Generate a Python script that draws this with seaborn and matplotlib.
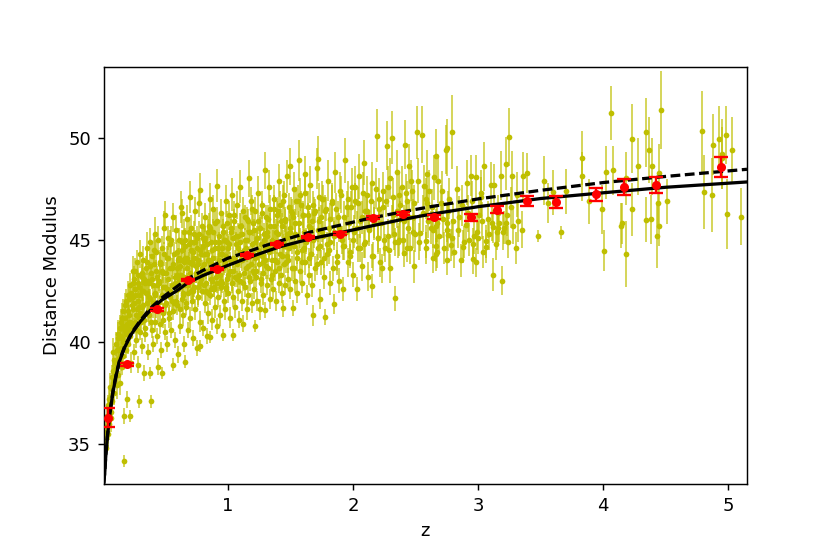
import numpy as np
import pandas as pd
import seaborn as sns
import matplotlib
matplotlib.use("Agg")
import matplotlib.pyplot as plt

# Quasars / SNe individual points (z, mu, err) read by eye, by redshift range
pts_low = [
    (0.02, 35.1, 0.5), (0.025, 34.8, 0.6), (0.03, 35.9, 0.6), (0.035, 36.4, 0.5), (0.04, 35.5, 0.7),
    (0.045, 36.9, 0.5), (0.05, 37.2, 0.6), (0.05, 36.0, 0.8), (0.06, 37.8, 0.7), (0.065, 36.6, 0.6),
    (0.07, 38.3, 0.6), (0.075, 37.1, 0.8), (0.08, 39.5, 0.7), (0.085, 38.0, 0.5), (0.09, 37.5, 0.6),
    (0.095, 38.7, 0.5), (0.105, 39.0, 0.6), (0.11, 37.9, 0.7), (0.115, 39.6, 0.6), (0.12, 38.4, 0.5),
    (0.125, 40.2, 0.8), (0.13, 39.2, 0.5), (0.135, 38.0, 0.6), (0.14, 40.7, 0.6), (0.145, 39.7, 0.5),
    (0.15, 38.8, 0.4), (0.155, 41.2, 0.7), (0.16, 40.0, 0.5), (0.165, 39.3, 0.4), (0.168, 34.2, 0.3),
    (0.17, 36.4, 0.4), (0.175, 40.6, 0.5), (0.18, 41.8, 0.6), (0.185, 39.6, 0.4), (0.19, 37.2, 0.4),
    (0.195, 40.9, 0.5), (0.2, 42.3, 0.7), (0.2, 39.9, 0.5), (0.22, 36.4, 0.3), (0.21, 41.3, 0.5),
    (0.215, 40.3, 0.4), (0.22, 42.8, 0.6), (0.225, 39.0, 0.5), (0.23, 41.8, 0.5), (0.235, 40.7, 0.4),
    (0.24, 43.5, 0.7), (0.245, 42.2, 0.5), (0.25, 43.1, 0.6), (0.25, 39.5, 0.4), (0.255, 41.0, 0.4),
    (0.26, 42.6, 0.5), (0.265, 40.1, 0.4), (0.27, 43.9, 0.6), (0.275, 41.6, 0.5), (0.28, 42.9, 0.5),
    (0.285, 38.9, 0.4), (0.29, 37.1, 0.3), (0.29, 41.2, 0.5), (0.295, 44.3, 0.7), (0.3, 42.3, 0.5),
    (0.3, 40.5, 0.4),
]

pts_low2 = [
    (0.028, 35.6, 0.5), (0.042, 36.2, 0.6), (0.055, 37.0, 0.5), (0.062, 36.3, 0.7), (0.072, 37.7, 0.6),
    (0.078, 38.6, 0.6), (0.088, 38.2, 0.5), (0.092, 39.1, 0.7), (0.102, 38.6, 0.5), (0.108, 39.9, 0.6),
    (0.118, 38.9, 0.5), (0.122, 40.4, 0.7), (0.128, 39.6, 0.5), (0.138, 40.3, 0.6), (0.142, 39.0, 0.4),
    (0.148, 41.0, 0.6), (0.152, 40.2, 0.5), (0.158, 40.8, 0.5), (0.162, 41.5, 0.6), (0.172, 40.0, 0.5),
    (0.178, 41.2, 0.5), (0.182, 40.4, 0.4), (0.188, 42.0, 0.6), (0.192, 40.8, 0.5), (0.198, 41.5, 0.5),
    (0.205, 40.6, 0.5), (0.212, 42.1, 0.6), (0.218, 41.0, 0.5), (0.228, 42.4, 0.5), (0.232, 40.9, 0.4),
    (0.238, 41.6, 0.5), (0.242, 42.9, 0.6), (0.248, 40.8, 0.4), (0.252, 41.9, 0.5), (0.258, 43.5, 0.6),
    (0.262, 41.3, 0.5), (0.268, 42.3, 0.5), (0.272, 40.6, 0.4), (0.278, 42.0, 0.5), (0.282, 43.3, 0.6),
    (0.288, 41.7, 0.5), (0.292, 42.7, 0.5), (0.298, 41.4, 0.5),
]

pts_mid1 = [
    (0.31, 41.7, 0.5), (0.31, 43.2, 0.6), (0.315, 39.8, 0.4), (0.32, 42.5, 0.5), (0.325, 44.0, 0.7),
    (0.33, 38.5, 0.4), (0.33, 41.1, 0.5), (0.335, 42.9, 0.5), (0.34, 40.4, 0.4), (0.345, 43.6, 0.6),
    (0.35, 41.9, 0.5), (0.35, 44.6, 0.8), (0.355, 42.4, 0.4), (0.36, 39.5, 0.4), (0.365, 43.0, 0.6),
    (0.37, 41.3, 0.5), (0.375, 44.9, 0.7), (0.38, 38.5, 0.3), (0.38, 42.1, 0.5), (0.385, 37.1, 0.3),
    (0.385, 43.4, 0.5), (0.39, 40.6, 0.4), (0.395, 44.2, 0.6), (0.4, 41.7, 0.5), (0.4, 42.8, 0.5),
    (0.405, 39.9, 0.4), (0.41, 43.8, 0.6), (0.415, 45.3, 0.8), (0.42, 41.0, 0.5), (0.42, 42.4, 0.4),
    (0.425, 44.4, 0.6), (0.43, 40.3, 0.4), (0.435, 43.2, 0.5), (0.44, 38.8, 0.4), (0.44, 41.9, 0.5),
    (0.445, 45.0, 0.7), (0.45, 42.9, 0.5), (0.455, 40.9, 0.5), (0.46, 43.9, 0.6), (0.465, 39.6, 0.4),
    (0.47, 42.3, 0.5), (0.47, 38.5, 0.3), (0.475, 44.6, 0.6), (0.48, 41.4, 0.5), (0.485, 43.4, 0.5),
    (0.49, 45.6, 0.8), (0.495, 40.5, 0.4), (0.5, 42.7, 0.5), (0.5, 46.2, 0.7), (0.505, 41.9, 0.5),
    (0.51, 44.1, 0.6), (0.515, 39.9, 0.4), (0.52, 43.1, 0.5), (0.525, 45.1, 0.6), (0.53, 41.2, 0.5),
    (0.535, 42.5, 0.4), (0.54, 44.8, 0.7), (0.545, 40.6, 0.4), (0.55, 43.6, 0.5), (0.555, 42.0, 0.5),
    (0.56, 38.9, 0.3), (0.56, 46.1, 0.7), (0.565, 41.5, 0.4), (0.57, 44.3, 0.6), (0.575, 42.9, 0.5),
    (0.58, 40.1, 0.4), (0.585, 45.5, 0.7), (0.59, 43.3, 0.5), (0.595, 41.8, 0.5), (0.6, 44.0, 0.6),
    (0.6, 39.4, 0.4), (0.63, 46.3, 0.7),
]

pts_mid2 = [
    (0.605, 42.6, 0.5), (0.61, 45.0, 0.6), (0.615, 40.8, 0.4), (0.62, 43.7, 0.5), (0.625, 46.6, 0.8),
    (0.63, 42.1, 0.5), (0.635, 44.5, 0.6), (0.64, 41.3, 0.5), (0.645, 43.2, 0.5), (0.65, 39.9, 0.4),
    (0.65, 45.4, 0.6), (0.655, 42.8, 0.5), (0.66, 39.05, 0.3), (0.66, 44.1, 0.6), (0.665, 41.7, 0.4),
    (0.67, 43.6, 0.5), (0.675, 46.0, 0.7), (0.68, 40.6, 0.4), (0.685, 42.4, 0.5), (0.69, 44.8, 0.6),
    (0.695, 43.0, 0.5), (0.7, 47.1, 0.8), (0.7, 41.2, 0.5), (0.705, 45.6, 0.6), (0.71, 42.0, 0.5),
    (0.715, 43.9, 0.5), (0.72, 40.2, 0.4), (0.725, 44.4, 0.6), (0.73, 42.7, 0.5), (0.735, 46.4, 0.7),
    (0.74, 41.6, 0.5), (0.745, 43.4, 0.5), (0.75, 45.1, 0.6), (0.755, 39.7, 0.4), (0.76, 42.2, 0.5),
    (0.765, 44.0, 0.5), (0.77, 46.8, 0.7), (0.775, 41.0, 0.5), (0.78, 47.45, 0.8), (0.78, 39.8, 0.3),
    (0.785, 43.1, 0.5), (0.79, 45.7, 0.6), (0.795, 42.5, 0.5), (0.8, 44.7, 0.6), (0.805, 40.7, 0.4),
    (0.81, 43.8, 0.5), (0.815, 41.9, 0.5), (0.82, 46.1, 0.7), (0.825, 42.9, 0.5), (0.83, 44.3, 0.5),
    (0.835, 40.3, 0.4), (0.84, 45.4, 0.6), (0.845, 41.4, 0.5), (0.85, 43.5, 0.5), (0.855, 47.0, 0.8),
    (0.86, 40.26, 0.3), (0.86, 42.3, 0.5), (0.865, 44.9, 0.6), (0.87, 43.0, 0.5), (0.875, 41.1, 0.5),
    (0.88, 46.5, 0.7), (0.885, 44.1, 0.5), (0.89, 42.7, 0.5), (0.895, 45.8, 0.6), (0.9, 41.7, 0.5),
    (0.905, 43.7, 0.5), (0.91, 40.8, 0.4), (0.915, 47.65, 0.8), (0.92, 44.6, 0.6), (0.925, 42.2, 0.5),
    (0.93, 45.2, 0.6), (0.935, 43.3, 0.5), (0.94, 41.3, 0.5), (0.945, 46.3, 0.7), (0.95, 42.9, 0.5),
    (0.955, 44.3, 0.6), (0.96, 40.34, 0.3), (0.965, 45.7, 0.6), (0.97, 42.0, 0.5), (0.975, 43.9, 0.5),
    (0.98, 41.6, 0.5), (0.985, 46.9, 0.8), (0.99, 44.9, 0.6), (0.995, 43.1, 0.5), (1.0, 42.4, 0.5),
    (0.612, 43.1, 0.6), (0.628, 44.0, 0.5), (0.642, 42.3, 0.5), (0.658, 45.0, 0.6), (0.672, 42.9, 0.5),
    (0.688, 43.9, 0.5), (0.702, 44.9, 0.6), (0.718, 42.5, 0.5), (0.732, 45.3, 0.6), (0.748, 43.7, 0.5),
    (0.762, 42.7, 0.5), (0.778, 44.5, 0.6), (0.792, 43.3, 0.5), (0.808, 45.0, 0.6), (0.822, 42.5, 0.5),
    (0.838, 44.0, 0.5), (0.852, 45.7, 0.6), (0.868, 42.6, 0.5), (0.882, 43.6, 0.5), (0.898, 44.6, 0.6),
    (0.912, 42.9, 0.5), (0.928, 44.0, 0.5), (0.942, 42.7, 0.5), (0.958, 43.6, 0.6), (0.972, 45.0, 0.6),
    (0.988, 42.7, 0.5),
]

pts_mid3 = [
    (1.005, 44.6, 0.6), (1.01, 46.2, 0.7), (1.015, 41.2, 0.5), (1.02, 43.5, 0.5), (1.025, 45.4, 0.6),
    (1.03, 42.9, 0.5), (1.035, 47.2, 0.8), (1.04, 40.33, 0.3), (1.04, 44.1, 0.5), (1.045, 42.2, 0.5),
    (1.05, 45.9, 0.6), (1.055, 43.2, 0.5), (1.06, 41.7, 0.5), (1.065, 44.8, 0.6), (1.07, 46.7, 0.7),
    (1.075, 43.8, 0.5), (1.08, 42.5, 0.5), (1.085, 45.2, 0.6), (1.09, 41.1, 0.4), (1.095, 44.4, 0.5),
    (1.1, 47.6, 0.8), (1.1, 43.0, 0.5), (1.105, 45.7, 0.6), (1.11, 42.0, 0.5), (1.115, 44.0, 0.5),
    (1.12, 40.9, 0.4), (1.125, 46.4, 0.7), (1.13, 43.4, 0.5), (1.135, 45.0, 0.6), (1.14, 42.7, 0.5),
    (1.145, 44.6, 0.5), (1.15, 41.6, 0.5), (1.155, 46.0, 0.6), (1.16, 43.7, 0.5), (1.165, 42.3, 0.5),
    (1.17, 48.0, 0.9), (1.17, 45.4, 0.6), (1.175, 44.2, 0.5), (1.18, 43.0, 0.5), (1.185, 46.9, 0.7),
    (1.19, 41.9, 0.5), (1.195, 44.8, 0.6), (1.2, 43.5, 0.5), (1.205, 45.8, 0.6), (1.21, 42.6, 0.5),
    (1.215, 44.1, 0.5), (1.22, 40.78, 0.3), (1.22, 46.4, 0.7), (1.225, 43.2, 0.5), (1.23, 45.1, 0.6),
    (1.235, 42.0, 0.5), (1.24, 44.5, 0.5), (1.245, 47.3, 0.8), (1.25, 43.8, 0.5), (1.255, 41.6, 0.5),
    (1.26, 45.6, 0.6), (1.265, 42.9, 0.5), (1.27, 44.2, 0.5), (1.275, 46.7, 0.7), (1.28, 43.4, 0.5),
    (1.285, 42.3, 0.5), (1.29, 45.0, 0.6), (1.3, 48.4, 0.9), (1.3, 41.57, 0.4), (1.3, 44.0, 0.5),
    (1.305, 46.1, 0.6), (1.31, 42.8, 0.5), (1.315, 45.4, 0.6), (1.32, 43.6, 0.5), (1.325, 47.6, 0.8),
    (1.33, 44.6, 0.6), (1.335, 42.1, 0.5), (1.34, 46.5, 0.7), (1.345, 43.1, 0.5), (1.35, 45.0, 0.6),
    (1.355, 44.0, 0.5), (1.36, 42.6, 0.5), (1.365, 47.0, 0.7), (1.37, 45.7, 0.6), (1.375, 43.5, 0.5),
    (1.38, 44.7, 0.6), (1.385, 42.0, 0.5), (1.39, 46.2, 0.7), (1.395, 43.9, 0.5), (1.4, 45.3, 0.6),
    (1.405, 42.9, 0.5), (1.41, 47.9, 0.8), (1.415, 44.3, 0.5), (1.42, 46.7, 0.7), (1.425, 43.3, 0.5),
    (1.43, 45.7, 0.6), (1.435, 42.4, 0.5), (1.44, 41.65, 0.4), (1.44, 44.9, 0.6), (1.445, 47.2, 0.7),
    (1.45, 43.8, 0.5), (1.455, 46.0, 0.6), (1.46, 42.8, 0.5), (1.465, 45.1, 0.6), (1.47, 44.2, 0.5),
    (1.475, 48.1, 0.8), (1.48, 43.1, 0.5), (1.485, 46.6, 0.7), (1.49, 44.6, 0.6), (1.495, 42.6, 0.5),
    (1.5, 48.6, 0.9), (1.5, 45.4, 0.6),
]

# extra points in the crowded core of the cloud
pts_core_a = [
    (0.303, 41.0, 0.5), (0.31, 42.5, 0.5), (0.317, 43.4, 0.6), (0.324, 41.8, 0.4), (0.331, 43.1, 0.5),
    (0.338, 40.7, 0.4), (0.345, 42.4, 0.5), (0.352, 43.9, 0.6), (0.359, 41.5, 0.5), (0.366, 42.9, 0.5),
    (0.373, 42.2, 0.4), (0.38, 43.7, 0.6), (0.387, 41.0, 0.4), (0.394, 43.1, 0.5), (0.401, 41.9, 0.5),
    (0.408, 44.5, 0.7), (0.415, 42.3, 0.5), (0.422, 43.5, 0.5), (0.429, 41.6, 0.4), (0.436, 42.8, 0.5),
    (0.443, 41.5, 0.5), (0.45, 43.0, 0.5), (0.457, 43.8, 0.6), (0.464, 42.2, 0.4), (0.471, 43.5, 0.5),
    (0.478, 41.1, 0.4), (0.485, 42.7, 0.5), (0.492, 44.3, 0.6), (0.499, 41.8, 0.5), (0.506, 43.4, 0.5),
    (0.513, 42.6, 0.4), (0.52, 44.1, 0.6), (0.527, 41.4, 0.4), (0.534, 43.6, 0.5), (0.541, 42.2, 0.5),
    (0.548, 45.0, 0.7), (0.555, 42.8, 0.5), (0.562, 43.8, 0.5), (0.569, 41.9, 0.4), (0.576, 43.2, 0.5),
    (0.583, 42.0, 0.5), (0.59, 43.6, 0.5), (0.597, 44.4, 0.6), (0.604, 42.8, 0.4), (0.611, 44.1, 0.5),
    (0.618, 41.6, 0.4), (0.625, 43.3, 0.5), (0.632, 44.9, 0.6), (0.639, 42.4, 0.5), (0.646, 43.9, 0.5),
    (0.653, 43.2, 0.4), (0.66, 44.7, 0.6), (0.667, 41.9, 0.4), (0.674, 44.1, 0.5), (0.681, 42.8, 0.5),
    (0.688, 45.4, 0.7), (0.695, 43.4, 0.5), (0.702, 44.5, 0.5), (0.709, 42.5, 0.4), (0.716, 43.8, 0.5),
    (0.723, 42.6, 0.5), (0.73, 44.1, 0.5), (0.737, 44.9, 0.6), (0.744, 43.3, 0.4), (0.751, 44.6, 0.5),
    (0.758, 42.2, 0.4), (0.765, 43.8, 0.5), (0.772, 45.3, 0.6), (0.779, 42.9, 0.5), (0.786, 44.3, 0.5),
    (0.793, 43.6, 0.4), (0.8, 45.1, 0.6),
]

pts_core_b = [
    (0.807, 42.8, 0.5), (0.814, 44.3, 0.5), (0.821, 45.1, 0.6), (0.828, 43.5, 0.4), (0.835, 44.8, 0.5),
    (0.842, 42.4, 0.4), (0.849, 44.0, 0.5), (0.856, 45.6, 0.6), (0.863, 43.1, 0.5), (0.87, 44.5, 0.5),
    (0.877, 43.8, 0.4), (0.884, 45.4, 0.6), (0.891, 42.6, 0.4), (0.898, 44.9, 0.5), (0.905, 43.2, 0.5),
    (0.912, 45.9, 0.7), (0.919, 43.7, 0.5), (0.926, 44.9, 0.5), (0.933, 42.9, 0.4), (0.94, 44.3, 0.5),
    (0.947, 43.0, 0.5), (0.954, 44.6, 0.5), (0.961, 45.4, 0.6), (0.968, 43.7, 0.4), (0.975, 45.0, 0.5),
    (0.982, 42.6, 0.4), (0.989, 44.2, 0.5), (0.996, 45.8, 0.6), (1.003, 43.3, 0.5), (1.01, 44.8, 0.5),
    (1.017, 44.0, 0.4), (1.024, 45.6, 0.6), (1.031, 42.9, 0.4), (1.038, 45.1, 0.5), (1.045, 43.5, 0.5),
    (1.052, 46.2, 0.7), (1.059, 44.0, 0.5), (1.066, 45.2, 0.5), (1.073, 43.1, 0.4), (1.08, 44.6, 0.5),
    (1.087, 43.3, 0.5), (1.094, 44.9, 0.5), (1.101, 45.7, 0.6), (1.108, 44.0, 0.4), (1.115, 45.3, 0.5),
    (1.122, 42.9, 0.4), (1.129, 44.5, 0.5), (1.136, 46.1, 0.6), (1.143, 43.6, 0.5), (1.15, 45.0, 0.5),
    (1.157, 44.3, 0.4), (1.164, 45.9, 0.6), (1.171, 43.2, 0.4), (1.178, 45.4, 0.5), (1.185, 43.8, 0.5),
    (1.192, 46.5, 0.7), (1.199, 44.3, 0.5), (1.206, 45.5, 0.5), (1.213, 43.4, 0.4), (1.22, 44.9, 0.5),
    (1.227, 43.5, 0.5), (1.234, 45.1, 0.5), (1.241, 45.9, 0.6), (1.248, 44.3, 0.4), (1.255, 45.6, 0.5),
    (1.262, 43.1, 0.4), (1.269, 44.8, 0.5), (1.276, 46.3, 0.6), (1.283, 43.9, 0.5), (1.29, 45.3, 0.5),
    (1.297, 44.6, 0.4),
]

pts_core_c = [
    (1.304, 43.7, 0.6), (1.313, 45.2, 0.6), (1.322, 46.0, 0.7), (1.331, 44.4, 0.5), (1.34, 45.7, 0.6),
    (1.349, 43.3, 0.5), (1.358, 44.9, 0.6), (1.367, 46.5, 0.7), (1.376, 44.0, 0.6), (1.385, 45.4, 0.6),
    (1.394, 44.8, 0.5), (1.403, 46.4, 0.7), (1.412, 43.6, 0.5), (1.421, 45.9, 0.6), (1.43, 44.2, 0.6),
    (1.439, 46.9, 0.8), (1.448, 44.7, 0.6), (1.457, 45.9, 0.6), (1.466, 43.9, 0.5), (1.475, 45.3, 0.6),
    (1.484, 44.0, 0.6), (1.493, 45.6, 0.6), (1.502, 46.4, 0.7), (1.511, 44.8, 0.5), (1.52, 46.1, 0.6),
    (1.529, 43.6, 0.5), (1.538, 45.3, 0.6), (1.547, 46.9, 0.7), (1.556, 44.4, 0.6), (1.565, 45.8, 0.6),
    (1.574, 45.1, 0.5), (1.583, 46.7, 0.7), (1.592, 43.9, 0.5), (1.601, 46.2, 0.6), (1.61, 44.6, 0.6),
    (1.619, 47.3, 0.8), (1.628, 45.0, 0.6), (1.637, 46.2, 0.6), (1.646, 44.1, 0.5), (1.655, 45.6, 0.6),
    (1.664, 44.3, 0.6), (1.673, 45.9, 0.6), (1.682, 46.7, 0.7), (1.691, 45.1, 0.5), (1.7, 46.4, 0.6),
    (1.709, 43.8, 0.5), (1.718, 45.5, 0.6), (1.727, 47.1, 0.7), (1.736, 44.7, 0.6), (1.745, 46.1, 0.6),
    (1.754, 45.4, 0.5), (1.763, 47.0, 0.7), (1.772, 44.1, 0.5), (1.781, 46.5, 0.6), (1.79, 44.8, 0.6),
]

pts_core_d = [
    (1.806, 44.5, 0.7), (1.82, 46.0, 0.8), (1.834, 46.8, 0.9), (1.848, 45.2, 0.7), (1.862, 46.5, 0.8),
    (1.876, 43.9, 0.6), (1.89, 45.6, 0.7), (1.904, 47.2, 0.9), (1.918, 44.7, 0.7), (1.932, 46.1, 0.8),
    (1.946, 45.4, 0.7), (1.96, 47.0, 0.9), (1.974, 44.2, 0.6), (1.988, 46.6, 0.8), (2.002, 45.0, 0.7),
    (2.016, 47.6, 1.0), (2.03, 45.6, 0.8), (2.044, 46.8, 0.8), (2.058, 44.6, 0.7), (2.072, 46.1, 0.8),
    (2.086, 44.8, 0.7), (2.1, 46.4, 0.8), (2.114, 47.2, 0.9), (2.128, 45.6, 0.7), (2.142, 46.9, 0.8),
    (2.156, 44.2, 0.6), (2.17, 45.8, 0.8), (2.184, 47.5, 1.0), (2.198, 45.1, 0.7), (2.212, 46.5, 0.8),
    (2.226, 45.8, 0.7), (2.24, 47.4, 0.9), (2.254, 44.6, 0.7), (2.268, 46.9, 0.8), (2.282, 45.2, 0.8),
    (2.296, 48.0, 1.0), (2.31, 45.9, 0.8), (2.324, 47.1, 0.9), (2.338, 44.9, 0.7), (2.352, 46.4, 0.8),
    (2.366, 45.0, 0.8), (2.38, 46.7, 0.9), (2.394, 47.6, 1.0), (2.408, 45.9, 0.8), (2.422, 47.3, 0.9),
    (2.436, 44.6, 0.7), (2.45, 46.1, 0.8), (2.464, 47.9, 1.0), (2.478, 45.4, 0.8), (2.492, 46.8, 0.9),
]

pts_high1 = [
    (1.51, 43.6, 0.6), (1.515, 46.3, 0.7), (1.52, 41.68, 0.4), (1.525, 44.7, 0.6), (1.53, 47.5, 0.8),
    (1.535, 43.0, 0.6), (1.54, 45.8, 0.7), (1.55, 44.1, 0.6), (1.555, 42.4, 0.5), (1.56, 46.9, 0.8),
    (1.57, 48.9, 1.0), (1.57, 45.1, 0.6), (1.575, 43.5, 0.6), (1.58, 47.2, 0.8), (1.59, 44.5, 0.6),
    (1.595, 42.9, 0.5), (1.6, 46.2, 0.7), (1.61, 45.4, 0.7), (1.615, 43.9, 0.6), (1.62, 48.2, 0.9),
    (1.625, 44.9, 0.6), (1.63, 42.3, 0.5), (1.64, 46.6, 0.8), (1.645, 43.3, 0.5), (1.65, 45.7, 0.7),
    (1.66, 47.7, 0.9), (1.665, 44.3, 0.6), (1.67, 42.8, 0.6), (1.68, 41.3, 0.5), (1.68, 45.0, 0.7),
    (1.69, 46.3, 0.8), (1.7, 43.6, 0.6), (1.71, 48.5, 1.0), (1.72, 48.97, 1.1), (1.72, 44.6, 0.6),
    (1.73, 45.9, 0.7), (1.74, 42.1, 0.5), (1.745, 43.9, 0.6), (1.75, 47.0, 0.9), (1.76, 45.2, 0.7),
    (1.77, 43.2, 0.6), (1.78, 41.24, 0.4), (1.78, 46.4, 0.8), (1.79, 44.3, 0.6), (1.8, 47.9, 1.0),
    (1.81, 45.6, 0.7), (1.815, 42.9, 0.6), (1.82, 44.9, 0.7), (1.83, 46.9, 0.9), (1.84, 43.6, 0.6),
    (1.85, 41.85, 0.5), (1.85, 45.4, 0.7), (1.86, 48.3, 1.0), (1.87, 44.2, 0.7), (1.88, 46.1, 0.8),
    (1.89, 43.0, 0.6), (1.9, 47.4, 0.9), (1.91, 45.0, 0.7), (1.92, 42.6, 0.6), (1.93, 44.7, 0.7),
    (1.94, 48.9, 1.1), (1.95, 46.6, 0.8), (1.96, 43.9, 0.7), (1.97, 45.8, 0.8), (1.98, 44.4, 0.7),
    (1.99, 47.6, 0.9), (2.0, 43.3, 0.6),
]

pts_high2 = [
    (2.01, 45.4, 0.8), (2.02, 46.9, 0.9), (2.03, 42.6, 0.6), (2.04, 44.6, 0.7), (2.05, 48.1, 1.1),
    (2.06, 45.9, 0.8), (2.07, 43.7, 0.7), (2.08, 47.3, 1.0), (2.09, 48.76, 1.1), (2.1, 44.9, 0.8),
    (2.11, 46.4, 0.9), (2.12, 43.2, 0.7), (2.13, 45.5, 0.8), (2.15, 42.75, 0.6), (2.15, 47.8, 1.0),
    (2.16, 44.2, 0.7), (2.17, 46.0, 0.9), (2.19, 50.1, 1.3), (2.2, 45.1, 0.8), (2.21, 47.0, 1.0),
    (2.22, 43.9, 0.7), (2.23, 43.6, 0.7), (2.24, 46.6, 0.9), (2.25, 45.0, 0.8), (2.27, 49.6, 1.2),
    (2.28, 47.6, 1.0), (2.29, 44.5, 0.8), (2.3, 43.6, 0.7), (2.31, 50.0, 1.3), (2.32, 46.2, 0.9),
    (2.33, 45.3, 0.8), (2.34, 42.14, 0.6), (2.35, 48.3, 1.1), (2.36, 44.9, 0.8), (2.37, 47.2, 1.0),
    (2.38, 46.0, 0.9), (2.4, 45.0, 0.8), (2.41, 44.38, 0.7), (2.42, 49.66, 1.2), (2.43, 46.9, 1.0),
    (2.44, 45.6, 0.9), (2.45, 48.6, 1.1), (2.46, 44.6, 0.8), (2.47, 47.4, 1.0), (2.48, 46.1, 0.9),
    (2.49, 43.7, 0.8), (2.5, 45.3, 0.9), (2.51, 50.26, 1.3), (2.52, 47.9, 1.1), (2.53, 44.9, 0.9),
]

pts_tail = [
    (2.55, 50.15, 1.4), (2.59, 48.2, 1.2), (2.57, 47.65, 1.0), (2.66, 49.1, 1.3), (2.65, 48.05, 1.1),
    (2.79, 50.26, 1.8), (2.74, 49.4, 1.2), (2.75, 49.5, 1.4), (2.71, 47.37, 1.0), (2.7, 46.8, 0.9),
    (2.58, 47.0, 1.0), (2.59, 46.8, 0.9), (2.54, 45.34, 0.9), (2.58, 44.92, 0.8), (2.58, 44.6, 0.8),
    (2.62, 45.6, 0.8), (2.64, 45.5, 0.9), (2.66, 45.7, 0.8), (2.67, 45.8, 0.9), (2.64, 44.1, 0.7),
    (2.66, 44.3, 0.8), (2.67, 44.4, 0.8), (2.66, 44.7, 0.8), (2.75, 45.8, 0.9), (2.75, 45.5, 0.8),
    (2.76, 45.25, 0.8), (2.75, 44.0, 0.7), (2.79, 45.1, 0.9), (2.78, 44.75, 0.8), (2.76, 46.4, 1.0),
    (2.86, 44.0, 0.8), (2.85, 46.14, 1.0), (2.88, 44.67, 0.8), (2.9, 45.73, 0.9), (2.94, 48.14, 1.0),
    (2.98, 48.07, 1.1), (2.96, 44.05, 0.7), (2.98, 43.9, 0.7), (2.96, 44.8, 0.8), (2.97, 45.2, 0.9),
    (2.99, 45.4, 0.9), (3.0, 45.1, 0.8), (3.02, 47.3, 1.1), (3.02, 47.07, 1.0), (3.03, 45.93, 0.9),
    (3.06, 44.67, 0.8), (3.06, 44.92, 0.8), (3.1, 47.7, 1.1), (3.13, 47.7, 1.0), (3.11, 45.82, 0.9),
    (3.12, 45.65, 0.8), (3.12, 43.3, 0.8), (3.19, 43.0, 0.7), (3.15, 45.4, 0.9), (3.16, 45.6, 0.8),
    (3.17, 45.8, 0.9), (3.16, 46.3, 0.9), (3.18, 48.14, 1.2), (3.22, 48.73, 1.3), (3.25, 50.03, 1.4),
    (3.2, 45.4, 0.9), (3.21, 45.6, 0.8), (3.22, 45.8, 1.0), (3.23, 46.2, 1.0), (3.27, 48.14, 1.2),
    (3.28, 45.7, 0.9), (3.32, 45.9, 1.0), (3.36, 48.1, 1.2), (3.39, 48.27, 1.0), (3.48, 45.2, 0.3),
    (3.53, 47.9, 1.2), (3.56, 46.8, 1.0), (3.6, 47.32, 1.1), (3.66, 45.36, 0.3), (3.7, 47.37, 1.1),
    (3.83, 49.0, 1.3), (3.83, 48.1, 1.2), (3.89, 46.88, 1.1), (3.99, 46.5, 1.2), (4.01, 44.46, 1.0),
    (4.02, 48.3, 1.3), (4.06, 51.2, 1.3), (4.08, 48.4, 1.2), (4.14, 45.7, 1.1), (4.15, 45.8, 1.0),
    (4.18, 44.3, 1.6), (4.18, 48.0, 1.3), (4.23, 49.95, 1.7), (4.23, 46.5, 1.3), (4.28, 48.6, 1.4),
    (4.34, 50.26, 1.7), (4.34, 45.98, 1.1), (4.37, 49.4, 1.6), (4.38, 46.0, 1.2), (4.39, 48.6, 1.4),
    (4.43, 45.2, 1.6), (4.44, 46.8, 1.1), (4.45, 48.27, 1.4), (4.45, 45.7, 1.0), (4.46, 51.34, 1.9),
    (4.51, 46.88, 1.1), (4.79, 50.3, 2.0), (4.81, 47.34, 1.8), (4.87, 47.2, 1.8), (4.88, 49.66, 1.5),
    (4.93, 49.95, 1.6), (4.95, 49.2, 1.7), (4.95, 49.0, 1.5), (4.98, 50.13, 1.4), (4.99, 46.26, 1.7),
    (5.03, 49.4, 1.6), (5.1, 46.14, 1.4),
]

pts_tail2 = [
    (2.56, 46.3, 0.9), (2.6, 45.9, 0.8), (2.61, 47.4, 1.0), (2.63, 46.6, 0.9), (2.68, 47.9, 1.1),
    (2.69, 45.2, 0.8), (2.72, 46.0, 0.9), (2.73, 44.6, 0.8), (2.77, 47.0, 1.0), (2.8, 45.9, 0.9),
    (2.81, 44.4, 0.8), (2.83, 47.5, 1.1), (2.84, 45.5, 0.9), (2.87, 46.7, 1.0), (2.89, 44.9, 0.8),
    (2.91, 47.8, 1.1), (2.92, 46.3, 0.9), (2.93, 45.0, 0.8), (2.95, 46.9, 1.0), (3.01, 46.2, 0.9),
    (3.04, 44.4, 0.8), (3.05, 48.6, 1.2), (3.08, 46.0, 0.9), (3.09, 45.3, 0.8), (3.14, 44.8, 0.8),
    (3.24, 44.9, 0.8), (3.26, 46.6, 1.0), (3.3, 44.6, 0.8), (3.31, 47.2, 1.1), (3.35, 45.5, 0.9),
]

# binned averages (red)
bin_z = [0.04, 0.19, 0.43, 0.68, 0.91, 1.15, 1.39, 1.64, 1.9, 2.16,
         2.4, 2.65, 2.94, 3.15, 3.39, 3.62, 3.94, 4.17, 4.42, 4.94]
bin_mu = [36.3, 38.92, 41.6, 43.04, 43.56, 44.26, 44.78, 45.15, 45.3, 46.08,
          46.28, 46.13, 46.1, 46.47, 46.9, 46.85, 47.22, 47.6, 47.68, 48.55]
bin_err = [0.47, 0.08, 0.07, 0.05, 0.05, 0.05, 0.05, 0.06, 0.06, 0.07,
           0.08, 0.1, 0.18, 0.16, 0.25, 0.3, 0.31, 0.39, 0.37, 0.49]

# model curves
z_model = [0.008, 0.016, 0.024, 0.035, 0.048, 0.064, 0.083, 0.11, 0.136, 0.176,
           0.23, 0.3, 0.38, 0.47, 0.59, 0.68, 0.8, 0.9, 1.0, 1.15,
           1.3, 1.42, 1.66, 1.9, 2.11, 2.38, 2.62, 3.0, 3.5, 4.0,
           4.5, 5.0, 5.15]
mu_solid = [33.1, 33.6, 34.4, 35.2, 36.0, 36.8, 37.6, 38.45, 39.1, 39.75,
            40.4, 41.0, 41.55, 42.05, 42.5, 42.9, 43.25, 43.5, 43.75, 44.1,
            44.42, 44.67, 45.05, 45.35, 45.63, 45.98, 46.25, 46.62, 47.02, 47.3,
            47.57, 47.77, 47.83]
mu_dashed = [33.1, 33.65, 34.45, 35.25, 36.05, 36.85, 37.65, 38.5, 39.15, 39.8,
             40.45, 41.05, 41.65, 42.15, 42.7, 43.1, 43.5, 43.8, 44.1, 44.4,
             44.72, 44.95, 45.38, 45.72, 46.02, 46.35, 46.62, 47.0, 47.42, 47.8,
             48.1, 48.37, 48.45]

all_pts = (pts_low + pts_low2 + pts_mid1 + pts_mid2 + pts_mid3 + pts_core_a + pts_core_b
           + pts_core_c + pts_core_d + pts_high1 + pts_high2 + pts_tail + pts_tail2)
df = pd.DataFrame(all_pts, columns=['z', 'mu', 'err'])
bins = pd.DataFrame({'z': bin_z, 'mu': bin_mu, 'err': bin_err})
models = pd.DataFrame({'z': z_model, 'solid': mu_solid, 'dashed': mu_dashed})

fig, ax = plt.subplots(figsize=(830 / 130, 554 / 130), dpi=130)
fig.subplots_adjust(left=0.125, right=0.9, top=0.879, bottom=0.126)

# individual objects
ax.errorbar(df['z'], df['mu'], yerr=df['err'], fmt='none',
            ecolor=(0.75, 0.75, 0.0, 0.7), elinewidth=1.0, zorder=1)
sns.scatterplot(data=df, x='z', y='mu', ax=ax, color='y', s=10,
                linewidth=0, zorder=2, legend=False)

# models
sns.lineplot(data=models, x='z', y='solid', ax=ax, color='k', lw=1.8,
             sort=False, estimator=None, zorder=3)
sns.lineplot(data=models, x='z', y='dashed', ax=ax, color='k', lw=1.8,
             dashes=(3.0, 1.4), sort=False, estimator=None, zorder=3)

# binned points
ax.errorbar(bins['z'], bins['mu'], yerr=bins['err'], fmt='o', color='r',
            ms=4, capsize=4, elinewidth=1.3, capthick=1.3, zorder=4)

ax.set_xlim(0.008, 5.15)
ax.set_ylim(33.05, 53.45)
ax.set_xticks([1, 2, 3, 4, 5])
ax.set_yticks([35, 40, 45, 50])
ax.set_xlabel('z')
ax.set_ylabel('Distance Modulus')

fig.savefig('out.png', dpi=130)
